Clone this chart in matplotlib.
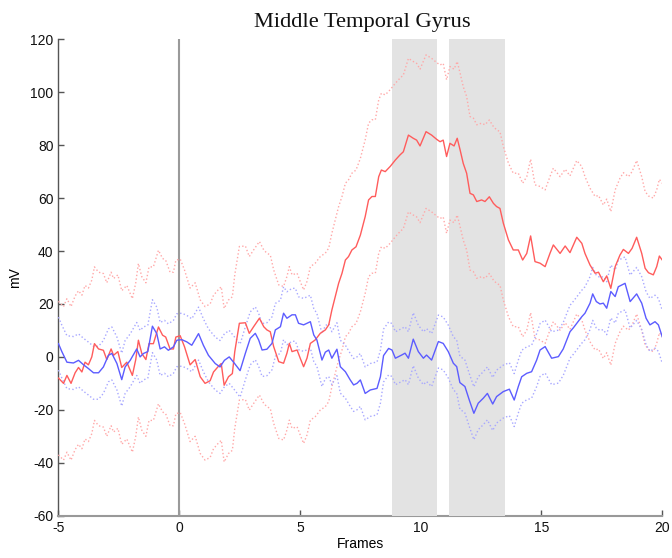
import matplotlib
matplotlib.use("Agg")
import matplotlib.pyplot as plt
import numpy as np

plt.rcParams["axes.unicode_minus"] = False

# ---------------- data ----------------
red_x = [-5.00, -4.79, -4.65, -4.48, -4.31, -4.17, -4.03, -3.90, -3.76, -3.62, -3.51, -3.34,
         -3.14, -3.00, -2.82, -2.72, -2.54, -2.38, -2.17, -1.94, -1.80, -1.69, -1.55, -1.38,
         -1.25, -1.07, -0.86, -0.69, -0.56, -0.38, -0.24, -0.14, 0.04, 0.22, 0.45, 0.66,
         0.87, 1.07, 1.28, 1.42, 1.60, 1.74, 1.86, 2.04, 2.20, 2.30, 2.49, 2.74, 2.90,
         3.08, 3.32, 3.50, 3.63, 3.77, 3.91, 4.12, 4.32, 4.46, 4.56, 4.67, 4.88, 5.01,
         5.15, 5.29, 5.43, 5.63, 5.84, 6.05, 6.19, 6.32, 6.46, 6.60, 6.74, 6.88, 7.01,
         7.15, 7.32, 7.50, 7.70, 7.84, 7.98, 8.12, 8.26, 8.37, 8.53, 8.74, 8.95, 9.14,
         9.28, 9.49, 9.69, 9.83, 9.97, 10.22, 10.45, 10.66, 10.80, 10.93, 11.07, 11.21,
         11.38, 11.51, 11.63, 11.76, 11.90, 12.04, 12.18, 12.32, 12.52, 12.66, 12.84,
         13.01, 13.14, 13.28, 13.42, 13.63, 13.83, 14.04, 14.22, 14.39, 14.55, 14.73,
         14.94, 15.15, 15.35, 15.49, 15.77, 15.98, 16.18, 16.46, 16.67, 16.80, 17.01,
         17.22, 17.36, 17.56, 17.70, 17.87, 18.05, 18.25, 18.39, 18.60, 18.75, 18.94,
         19.15, 19.29, 19.43, 19.63, 19.77, 19.88, 20.00]
red_mean = [-8.0, -10.0, -7.0, -10.0, -6.0, -4.0, -5.7, -2.0, -3.0, 0.0, 5.0, 3.0,
            2.5, -1.0, 3.0, 0.6, 2.0, -4.0, -2.0, -7.0, -1.0, 6.3, 1.3, -1.0,
            5.0, 5.0, 11.3, 8.2, 7.5, 3.0, 3.0, 7.5, 8.0, 3.8, -3.0, -1.0,
            -7.5, -10.0, -9.0, -5.7, -3.8, -2.5, -10.7, -7.5, -6.3, 2.0, 12.7, 12.9, 8.9,
            11.4, 14.6, 11.4, 10.2, 9.5, 3.9, -1.8, -2.4, 1.4, 5.1, 2.0, 2.6, -0.5,
            -3.7, -0.5, 5.1, 6.4, 8.9, 10.2, 12.1, 17.7, 22.8, 27.8, 31.6, 36.6, 37.9,
            40.4, 41.6, 46.0, 53.0, 59.3, 60.6, 60.6, 68.1, 70.6, 70.0, 72.0, 74.4, 76.3,
            77.5, 83.8, 82.6, 81.9, 79.7, 85.1, 83.8, 82.2, 81.3, 81.9, 75.7, 80.7,
            79.7, 82.6, 78.2, 73.1, 69.4, 61.8, 61.2, 58.7, 59.3, 58.7, 60.5,
            58.0, 56.8, 56.1, 50.5, 44.2, 40.4, 40.4, 36.6, 39.1, 45.7, 36.0,
            35.4, 34.1, 39.1, 42.3, 39.1, 41.9, 39.4, 45.2, 42.9, 39.1, 34.7,
            31.6, 32.0, 28.4, 30.6, 25.9, 34.1, 38.5, 40.6, 39.1, 41.0, 45.2,
            39.1, 33.5, 31.8, 31.0, 34.1, 38.1, 36.6]
red_ci = 29.0   # half-width of the dotted band

blue_x = [-5.00, -4.86, -4.65, -4.38, -4.17, -3.96, -3.76, -3.55, -3.34, -3.14, -2.93, -2.79,
          -2.58, -2.38, -2.24, -2.03, -1.76, -1.62, -1.48, -1.30, -1.11, -0.93, -0.79, -0.61,
          -0.45, -0.24, -0.10, 0.11, 0.31, 0.52, 0.80, 1.00, 1.21, 1.49, 1.69, 1.87, 2.07,
          2.25, 2.52, 2.74, 2.94, 3.15, 3.29, 3.43, 3.63, 3.84, 3.98, 4.19, 4.32, 4.46,
          4.67, 4.81, 4.94, 5.15, 5.29, 5.43, 5.57, 5.70, 5.91, 6.05, 6.19, 6.32, 6.53,
          6.67, 6.88, 7.08, 7.22, 7.36, 7.50, 7.70, 7.91, 8.19, 8.33, 8.46, 8.67, 8.81,
          8.95, 9.21, 9.35, 9.49, 9.69, 9.90, 10.11, 10.24, 10.45, 10.73, 10.93, 11.14,
          11.35, 11.49, 11.62, 11.83, 12.01, 12.20, 12.38, 12.59, 12.76, 12.98, 13.14,
          13.42, 13.67, 13.87, 14.04, 14.18, 14.39, 14.59, 14.80, 14.94, 15.15, 15.42,
          15.70, 15.90, 16.18, 16.32, 16.46, 16.67, 16.80, 17.01, 17.12, 17.27, 17.42,
          17.56, 17.70, 17.87, 18.05, 18.18, 18.46, 18.67, 18.94, 19.15, 19.33, 19.49,
          19.70, 19.84, 20.00]
blue_mean = [5.0, 2.0, -2.0, -2.3, -1.3, -3.0, -4.4, -6.0, -6.0, -3.8, 0.6, 1.3,
             -2.5, -8.6, -3.8, -1.3, 3.0, 0.0, 1.3, 2.0, 11.6, 8.8, 3.0, 3.8,
             2.5, 3.8, 6.3, 6.5, 5.7, 4.4, 8.8, 4.4, 0.6, -2.5, -3.8, -1.3, 0.0,
             -2.0, -5.2, 1.4, 7.0, 8.9, 6.4, 2.6, 2.9, 5.1, 10.2, 11.4, 16.5, 14.6,
             15.9, 15.9, 12.7, 12.1, 12.7, 13.3, 8.3, 6.4, -1.2, 1.8, 2.6, -0.5, 2.9,
             -3.7, -5.6, -8.7, -10.6, -10.0, -8.7, -13.8, -12.5, -11.9, -7.5, 0.5, 3.2, 2.6,
             -0.5, 0.7, 1.4, -0.5, 6.7, 2.0, -0.5, 0.7, -1.2, 5.8, 5.1, 2.0,
             -2.4, -3.7, -9.7, -11.2, -16.3, -21.3, -17.5, -15.6, -13.8, -17.8, -15.0,
             -13.1, -12.2, -16.3, -11.2, -7.5, -6.2, -5.6, -1.2, 2.6, 3.9, -0.5,
             0.1, 3.0, 9.5, 11.0, 12.7, 15.2, 16.5, 20.3, 23.8, 20.9, 20.0,
             20.3, 18.4, 24.7, 22.8, 26.5, 27.8, 20.9, 23.8, 20.3, 14.6, 12.1,
             13.3, 12.1, 7.6]
blue_ci = 10.0  # half-width of the dotted band

shade_spans = [(8.80, 10.68), (11.15, 13.48)]
onset_frame = 0

title = "Middle Temporal Gyrus"
xlabel = "Frames"
ylabel = "mV"
xticks = [-5, 0, 5, 10, 15, 20]
yticks = [-60, -40, -20, 0, 20, 40, 60, 80, 100, 120]

# ---------------- plot ----------------
fig = plt.figure(figsize=(6.72, 5.58), dpi=100)
ax = fig.add_axes([0.087, 0.0758, 0.8985, 0.8538])

for a, b in shade_spans:
    ax.axvspan(a, b, color="#e3e3e3", lw=0, zorder=3)

ax.axvline(onset_frame, color="#9a9a9a", lw=1.5, zorder=3.5)

rx = np.array(red_x)
rm = np.array(red_mean)
bx = np.array(blue_x)
bm = np.array(blue_mean)

ax.plot(rx, rm + red_ci, ls=":", color="#ffa8a8", lw=1.0, zorder=4)
ax.plot(rx, rm - red_ci, ls=":", color="#ffa8a8", lw=1.0, zorder=4)
ax.plot(bx, bm + blue_ci, ls=":", color="#a8a8ff", lw=1.0, zorder=4)
ax.plot(bx, bm - blue_ci, ls=":", color="#a8a8ff", lw=1.0, zorder=4)
ax.plot(rx, rm, color="#ff5c5c", lw=1.0, zorder=5)
ax.plot(bx, bm, color="#5c5cff", lw=1.0, zorder=5)

ax.set_xlim(-5, 20)
ax.set_ylim(-60, 120)
ax.set_xticks(xticks)
ax.set_yticks(yticks)

for s in ("top", "right"):
    ax.spines[s].set_visible(False)
ax.spines["left"].set_color("#555555")
ax.spines["bottom"].set_color("#999999")
ax.spines["left"].set_linewidth(1.0)
ax.spines["bottom"].set_linewidth(1.5)

ax.tick_params(direction="in", length=4.5, width=1.0, colors="#555555",
               labelcolor="#111111", labelsize=10)
for lab in ax.get_xticklabels() + ax.get_yticklabels():
    lab.set_family("Liberation Sans")

ax.set_xlabel(xlabel, fontsize=10, family="Liberation Sans", labelpad=2)
ax.set_ylabel(ylabel, fontsize=10, family="Liberation Sans", labelpad=6)

fig.text(0.539, 0.951, title, ha="center", va="baseline",
         fontsize=16.2, family="Liberation Serif", color="#111111")

fig.savefig("out.png", dpi=100)
